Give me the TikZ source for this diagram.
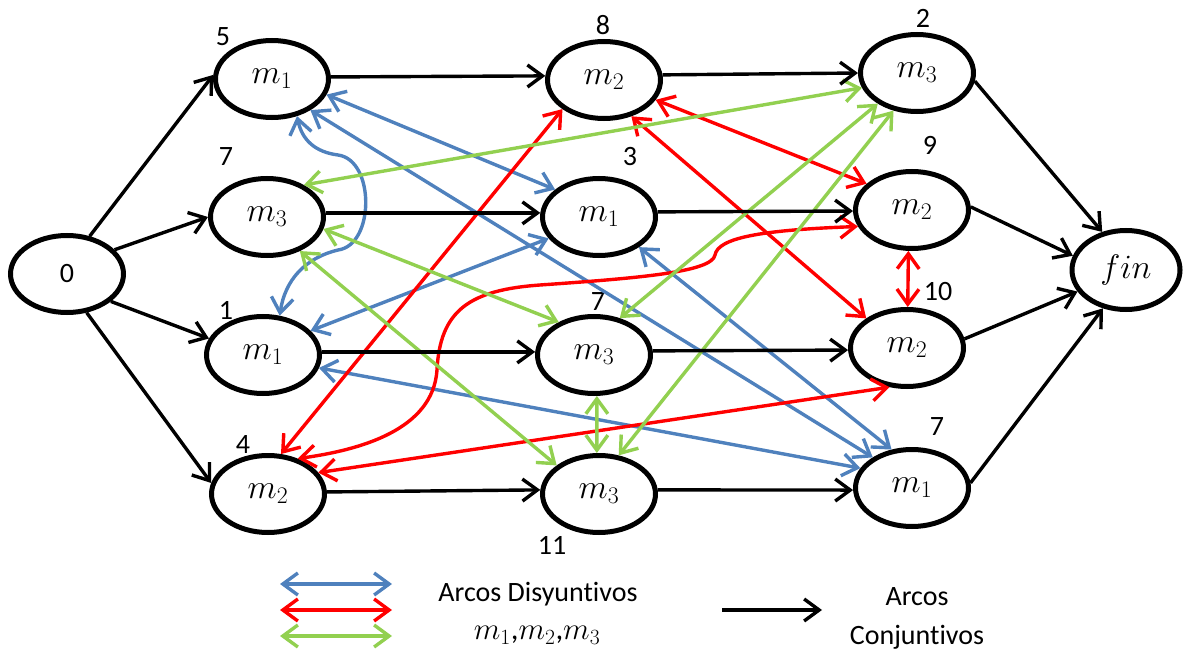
\RequirePackage{fix-cm}
\documentclass[tikz,border=0pt]{standalone}
\usepackage{fontspec}
\setmainfont{Carlito}[Ligatures=NoCommon]
\usetikzlibrary{arrows.meta,shapes.geometric}
\definecolor{cblue}{HTML}{4F81BD}
\definecolor{cred}{HTML}{FF0000}
\definecolor{cgreen}{HTML}{92D050}
\begin{document}
\begin{tikzpicture}[x=1pt,y=-1pt,
  st/.style={ellipse, draw, fill=white, line width=5pt, minimum width=113pt, minimum height=77pt, inner sep=0pt, font=\fontsize{34}{34}\selectfont},
  num/.style={inner sep=0pt, font=\fontsize{28}{28}\selectfont},
  tip/.style={Straight Barb[length=15pt,width=22pt]},
  conj/.style={line width=3.4pt, -{Straight Barb[length=15pt,width=22pt]}},
  dis/.style={line width=3.4pt, {Straight Barb[length=15pt,width=22pt]}-{Straight Barb[length=15pt,width=22pt]}},
]
\useasboundingbox (0,0) rectangle (1184,650);
% states
\node[st,font=\fontsize{28}{28}\selectfont] (Z0) at (67,274) {0};
\node[st] (A1) at (272,79) {$m_1$};
\node[st] (A2) at (604,80) {$m_2$};
\node[st] (A3) at (917,73) {$m_3$};
\node[st] (B1) at (267,217) {$m_3$};
\node[st] (B2) at (599,217) {$m_1$};
\node[st] (B3) at (912,210) {$m_2$};
\node[st] (C1) at (263,355) {$m_1$};
\node[st] (C2) at (594,355) {$m_3$};
\node[st] (C3) at (907,348) {$m_2$};
\node[st] (D1) at (268,494) {$m_2$};
\node[st] (D2) at (599,494) {$m_3$};
\node[st] (D3) at (912,488) {$m_1$};
\node[st,minimum width=108pt,minimum height=79pt] (F) at (1126,270) {$fin$};
% labels
\node[num] (l5) at (223,37) {5};
\node[num] (l7a) at (226,157) {7};
\node[num] (l1) at (226,310) {1};
\node[num] (l4) at (243,445) {4};
\node[num] (l8) at (603,25) {8};
\node[num] (l3) at (630,157) {3};
\node[num] (l7b) at (598,302) {7};
\node[num] (l11) at (552,545) {11};
\node[num] (l2) at (923,18) {2};
\node[num] (l9) at (930,145) {9};
\node[num] (l10) at (938,292) {10};
\node[num] (l7c) at (937,427) {7};
% blue disjunctive arcs
\draw[dis,cblue] (A1.-16) -- (B2.148);
\draw[dis,cblue] (A1.-56) .. controls (302,140) and (315,152) .. (338,155) .. controls (375,160) and (375,245) .. (338,250) .. controls (305,258) and (285,280) .. (C1.67);
\draw[dis,cblue] (A1.-39) -- (D3.142);
\draw[dis,cblue] (B2.203) -- (C1.27);
\draw[dis,cblue] (B2.-37) -- (D3.118);
\draw[dis,cblue] (C1.-13) -- (D3.159);
% red disjunctive arcs
\draw[dis,cred] (A2.215) -- (D1.72);
\draw[dis,cred] (A2.-21) -- (B3.150);
\draw[dis,cred] (A2.-53) -- (C3.144);
\draw[dis,cred] (B3.265) -- (C3.89);
\draw[dis,cred] (B3.197) .. controls (760,230) and (718,238) .. (715,255) .. controls (712,272) and (640,278) .. (540,285) .. controls (470,290) and (440,310) .. (437,370) .. controls (433,430) and (360,450) .. (D1.50);
\draw[dis,cred] (C3.246) -- (D1.23);
% green disjunctive arcs
\draw[dis,cgreen] (A3.195) -- (B1.41);
\draw[dis,cgreen] (A3.218) -- (C2.55);
\draw[dis,cgreen] (A3.238) -- (D2.63);
\draw[dis,cgreen] (B1.-12) -- (C2.137);
\draw[dis,cgreen] (B1.-46) -- (D2.146);
\draw[dis,cgreen] (C2.-86) -- (D2.93);
% conjunctive arcs
\draw[conj] (Z0.59) -- (A1.176);
\draw[conj] (Z0.27) -- (B1.180);
\draw[conj] (Z0.-32) -- (C1.163);
\draw[conj] (Z0.-63) -- (D1.169);
\draw[conj] (A1.2) -- (A2.176);
\draw[conj] (A2.5) -- (A3.180);
\draw[conj] (A3.-8) -- (F.122);
\draw[conj] (B1.4) -- (B2.176);
\draw[conj] (B2.5) -- (B3.181);
\draw[conj] (B3.3) -- (F.165);
\draw[conj] (C1.3) -- (C2.177);
\draw[conj] (C2.4) -- (C3.182);
\draw[conj] (C3.9) -- (F.204);
\draw[conj] (D1.2) -- (D2.176);
\draw[conj] (D2.4) -- (D3.182);
\draw[conj] (D3.5) -- (F.239);
% legend
\coordinate (lb1) at (280,584); \coordinate (lb2) at (392,584);
\coordinate (lr1) at (280,610); \coordinate (lr2) at (392,610);
\coordinate (lg1) at (280,636); \coordinate (lg2) at (392,636);
\coordinate (lk1) at (722,610); \coordinate (lk2) at (822,610);
\draw[dis,cblue] (lb1) -- (lb2);
\draw[dis,cred] (lr1) -- (lr2);
\draw[dis,cgreen] (lg1) -- (lg2);
\draw[conj] (lk1) -- (lk2);
\node[num] (t1) at (538,594) {Arcos Disyuntivos};
\node[num,font=\fontsize{31}{31}\selectfont] (t2) at (537,635) {$m_1$,$m_2$,$m_3$};
\node[num] (t3) at (917,597) {Arcos};
\node[num] (t4) at (917,637) {Conjuntivos};
\end{tikzpicture}
\end{document}
